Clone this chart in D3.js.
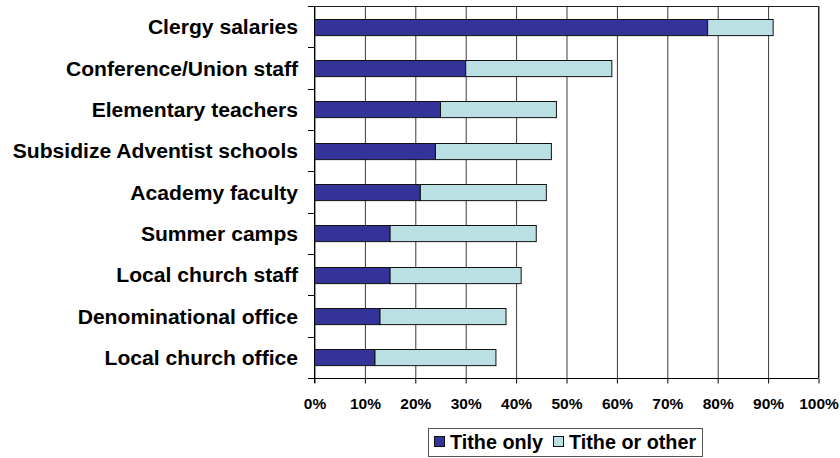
<!DOCTYPE html>
<html>
<head>
<meta charset="utf-8">
<script src="https://cdn.jsdelivr.net/npm/d3@7"></script>
<style>
  html, body { margin: 0; padding: 0; background: #fff; }
  svg { display: block; font-family: Arial, "Liberation Sans", sans-serif; }
</style>
</head>
<body>
<svg id="chart" width="840" height="458"></svg>
<script>
// Uses of tithe funds, share of respondents (%)
const categories = [
  "Clergy salaries",
  "Conference/Union staff",
  "Elementary teachers",
  "Subsidize Adventist schools",
  "Academy faculty",
  "Summer camps",
  "Local church staff",
  "Denominational office",
  "Local church office"
];
const titheOnly    = [78, 30, 25, 24, 21, 15, 15, 13, 12];
const titheOrOther = [13, 29, 23, 23, 25, 29, 26, 25, 24];   // stacked on top of "Tithe only"
const seriesNames  = ["Tithe only", "Tithe or other"];
const seriesColors = ["#333399", "#BBE0E3"];
const xTicks = [0, 10, 20, 30, 40, 50, 60, 70, 80, 90, 100];

const rows = categories.map((c, i) => ({
  category: c,
  "Tithe only": titheOnly[i],
  "Tithe or other": titheOrOther[i]
}));

const svg = d3.select("#chart");
const plot = { left: 314, right: 818, top: 6, bottom: 378 };

const x = d3.scaleLinear().domain([0, 100]).range([plot.left, plot.right]);
const y = d3.scaleBand().domain(categories).range([plot.top, plot.bottom])
  .paddingInner(0.61).paddingOuter(0.305);
const color = d3.scaleOrdinal().domain(seriesNames).range(seriesColors);

// vertical gridlines
svg.append("g")
  .attr("transform", `translate(0.5,${plot.bottom})`)
  .call(d3.axisBottom(x).tickValues(xTicks).tickSize(-(plot.bottom - plot.top)).tickFormat(""))
  .call(g => g.select(".domain").remove())
  .call(g => g.selectAll("line").attr("stroke", "#3a3a3a").attr("stroke-width", 1));

// plot frame (top and right)
svg.append("path")
  .attr("d", `M${plot.left},${plot.top + 0.5}H${plot.right + 0.5}V${plot.bottom}`)
  .attr("fill", "none").attr("stroke", "#222").attr("stroke-width", 1);

// stacked bars
const stacked = d3.stack().keys(seriesNames)(rows);
svg.append("g").selectAll("g")
  .data(stacked)
  .join("g")
  .attr("fill", d => color(d.key))
  .selectAll("rect")
  .data(d => d)
  .join("rect")
  .attr("x", d => x(d[0]) + 0.5)
  .attr("y", d => Math.round(y(d.data.category)) + 0.5)
  .attr("width", d => x(d[1]) - x(d[0]))
  .attr("height", y.bandwidth())
  .attr("stroke", "#111")
  .attr("stroke-width", 1);

// x axis
const xAxis = svg.append("g")
  .attr("transform", `translate(0.5,${plot.bottom + 0.5})`)
  .call(d3.axisBottom(x).tickValues(xTicks).tickSize(5).tickPadding(14).tickFormat(d => d + "%"));
xAxis.select(".domain").attr("stroke", "#000").attr("d", `M${plot.left - 6},0H${plot.right}`);
xAxis.selectAll("line").attr("stroke", "#000");
xAxis.selectAll("text")
  .attr("fill", "#000")
  .style("font-size", "15.5px")
  .style("font-weight", "bold");

// y axis: tick marks on category boundaries
const boundaries = d3.range(categories.length + 1).map(i => y.range()[0] + i * y.step());
const yAxis = svg.append("g");
yAxis.append("line")
  .attr("x1", plot.left + 0.5).attr("x2", plot.left + 0.5)
  .attr("y1", plot.top).attr("y2", plot.bottom + 5)
  .attr("stroke", "#000");
yAxis.selectAll("line.tick")
  .data(boundaries)
  .join("line")
  .attr("class", "tick")
  .attr("x1", plot.left - 6).attr("x2", plot.left)
  .attr("y1", d => Math.round(d) + 0.5).attr("y2", d => Math.round(d) + 0.5)
  .attr("stroke", "#000");

// category labels
svg.append("g").selectAll("text")
  .data(categories)
  .join("text")
  .attr("x", 298)
  .attr("y", d => y(d) + y.bandwidth() / 2)
  .attr("dy", "0.36em")
  .attr("text-anchor", "end")
  .style("font-size", "21.1px")
  .style("font-weight", "bold")
  .attr("fill", "#000")
  .text(d => d);

// legend
const legend = svg.append("g");
legend.append("rect")
  .attr("x", 428.5).attr("y", 428.5).attr("width", 274).attr("height", 28)
  .attr("fill", "#fff").attr("stroke", "#555").attr("stroke-width", 1);
const legendItemX = [434, 553];
const items = legend.selectAll("g.item")
  .data(seriesNames)
  .join("g")
  .attr("class", "item")
  .attr("transform", (d, i) => `translate(${legendItemX[i]},0)`);
items.append("rect")
  .attr("x", 0.5).attr("y", 436.5).attr("width", 10).attr("height", 10)
  .attr("fill", d => color(d)).attr("stroke", "#111");
items.append("text")
  .attr("x", 16).attr("y", 442).attr("dy", "0.36em")
  .style("font-size", "19.8px")
  .style("font-weight", "bold")
  .attr("fill", "#000")
  .text(d => d);
</script>
</body>
</html>
